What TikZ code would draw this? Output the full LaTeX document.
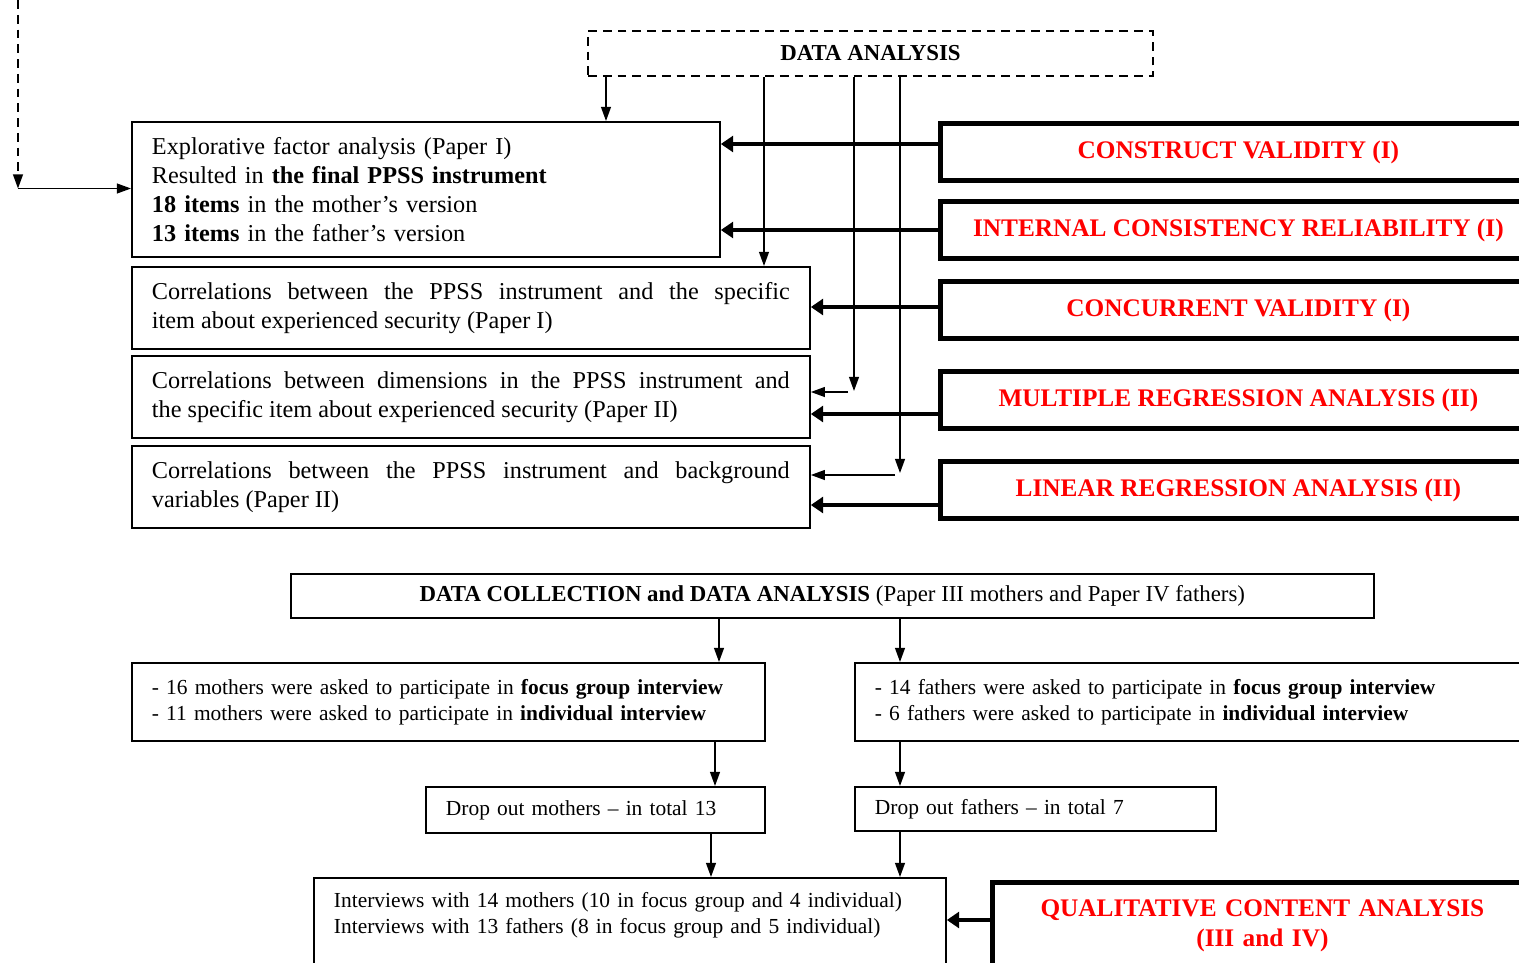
\documentclass[tikz,border=0pt]{standalone}
\usepackage{fontspec}
\setmainfont{Liberation Serif}
\usetikzlibrary{arrows.meta}
\usetikzlibrary{calc}

\definecolor{resred}{RGB}{255,0,0}
\newcommand{\bigtxt}{\fontsize{13.8}{16.5}\selectfont}
\newcommand{\smalltxt}{\fontsize{12.2}{14.8}\selectfont}
\hyphenpenalty=10000
\exhyphenpenalty=10000

\begin{document}
\begin{tikzpicture}[x=0.02cm, y=-0.02cm,
  box/.style={draw, line width=1.1pt, anchor=north west, inner xsep=0.4cm, inner ysep=0pt},
  resbox/.style={draw, line width=2.8pt, anchor=north west, text=resred,
    font=\fontsize{14.4}{17}\selectfont\bfseries, minimum width=11.92cm, minimum height=1.14cm},
  arr/.style={line width=0.85pt, -{Triangle[length=8pt,width=5.6pt]}},
  fatarr/.style={line width=2.3pt, -{Triangle[length=7pt,width=9pt]}}]

\clip (0,0) rectangle (1519,963);

% upper part
\node[draw, line width=1.1pt, dash pattern=on 5pt off 3.4pt, minimum width=11.3cm,
  minimum height=0.9cm, font=\fontsize{13}{15}\selectfont\bfseries] (da) at (870.5,53.5) {DATA ANALYSIS};

\node[box, minimum width=11.76cm, minimum height=2.7cm, text width=10.96cm, align=left,
  font=\bigtxt] (b1) at (131,121) {Explorative factor analysis (Paper I)\\
  Resulted in \textbf{the final PPSS instrument}\\
  \textbf{18 items} in the mother's version\\
  \textbf{13 items} in the father's version};
\node[box, minimum width=13.56cm, minimum height=1.64cm, text width=12.76cm, align=justify,
  font=\bigtxt] (b2) at (131,266) {Correlations between the PPSS instrument and the specific\linebreak
  item about experienced security (Paper I)};
\node[box, minimum width=13.56cm, minimum height=1.64cm, text width=12.76cm, align=justify,
  font=\bigtxt] (b3) at (131,355) {Correlations between dimensions in the PPSS instrument and\linebreak
  the specific item about experienced security (Paper II)};
\node[box, minimum width=13.56cm, minimum height=1.64cm, text width=12.76cm, align=justify,
  font=\bigtxt] (b4) at (131,445) {Correlations between the PPSS instrument and background\linebreak
  variables (Paper II)};

\foreach \nm/\yy/\txt in {cv/121/CONSTRUCT VALIDITY (I), ic/199/INTERNAL CONSISTENCY RELIABILITY (I),
  ccv/279/CONCURRENT VALIDITY (I), mra/369/MULTIPLE REGRESSION ANALYSIS (II),
  lra/459/LINEAR REGRESSION ANALYSIS (II)}
  \node[resbox] (\nm) at (938,\yy) {\txt};

\coordinate (top) at (18,0);
\coordinate (turn) at (18,188.5);
\draw[arr, dash pattern=on 5pt off 3.4pt] (top) -- (turn);
\draw[arr] (turn) -- (turn -| b1.west);

\draw[arr] (da.south -| 606,0) -- (b1.north -| 606,0);
\draw[arr] (da.south -| 764,0) -- (764,0 |- b2.north);
\coordinate (e3) at (854,391);
\coordinate (s3) at (848,392);
\coordinate (e4) at (900,473);
\coordinate (s4) at (895,475);
\draw[arr] (da.south -| e3) -- (e3);
\draw[arr] (s3) -- (b3.east |- s3);
\draw[arr] (da.south -| e4) -- (e4);
\draw[arr] (s4) -- (b4.east |- s4);

\draw[fatarr] (cv.west |- 0,144) -- (b1.east |- 0,144);
\draw[fatarr] (ic.west |- 0,230) -- (b1.east |- 0,230);
\draw[fatarr] (ccv.west |- 0,307) -- (b2.east |- 0,307);
\draw[fatarr] (mra.west |- 0,414) -- (b3.east |- 0,414);
\draw[fatarr] (lra.west |- 0,505) -- (b4.east |- 0,505);

% lower part
\node[box, minimum width=21.66cm, minimum height=0.88cm, font=\fontsize{13}{15}\selectfont] (dc) at (290,573)
  {\textbf{DATA COLLECTION and DATA ANALYSIS} (Paper III mothers and Paper IV fathers)};
\node[box, minimum width=12.66cm, minimum height=1.56cm, text width=11.86cm, align=left,
  font=\smalltxt] (mo) at (131,662)
  {- 16 mothers were asked to participate in \textbf{focus group interview}\\
   - 11 mothers were asked to participate in \textbf{individual interview}};
\node[box, minimum width=14cm, minimum height=1.56cm, text width=13.2cm, align=left,
  font=\smalltxt] (fa) at (854,662)
  {- 14 fathers were asked to participate in \textbf{focus group interview}\\
   - 6 fathers were asked to participate in \textbf{individual interview}};
\node[box, minimum width=6.78cm, minimum height=0.92cm, text width=5.98cm, align=left,
  font=\smalltxt] (dm) at (425,786) {Drop out mothers -- in total 13};
\node[box, minimum width=7.22cm, minimum height=0.88cm, text width=6.42cm, align=left,
  font=\smalltxt] (df) at (854,786) {Drop out fathers -- in total 7};
\node[box, minimum width=12.64cm, inner ysep=0.28cm, text depth=2cm, text width=11.84cm,
  align=left, font=\smalltxt] (iv) at (313,877)
  {Interviews with 14 mothers (10 in focus group and 4 individual)\\
   Interviews with 13 fathers (8 in focus group and 5 individual)};
\node[draw, line width=2.8pt, anchor=north west, minimum width=10.8cm, inner ysep=0.34cm,
  text depth=2cm, text width=10cm, align=center, text=resred,
  font=\fontsize{14.4}{17}\selectfont\bfseries] (qca) at (990,880)
  {QUALITATIVE CONTENT ANALYSIS\\(III and IV)};

\draw[arr] (dc.south -| 719,0) -- (mo.north -| 719,0);
\draw[arr] (dc.south -| 900,0) -- (fa.north -| 900,0);
\draw[arr] (mo.south -| 715,0) -- (dm.north -| 715,0);
\draw[arr] (fa.south -| 900,0) -- (df.north -| 900,0);
\draw[arr] (dm.south -| 711,0) -- (iv.north -| 711,0);
\draw[arr] (df.south -| 900,0) -- (iv.north -| 900,0);
\draw[fatarr] (qca.west |- 0,920) -- (iv.east |- 0,920);
\end{tikzpicture}
\end{document}
